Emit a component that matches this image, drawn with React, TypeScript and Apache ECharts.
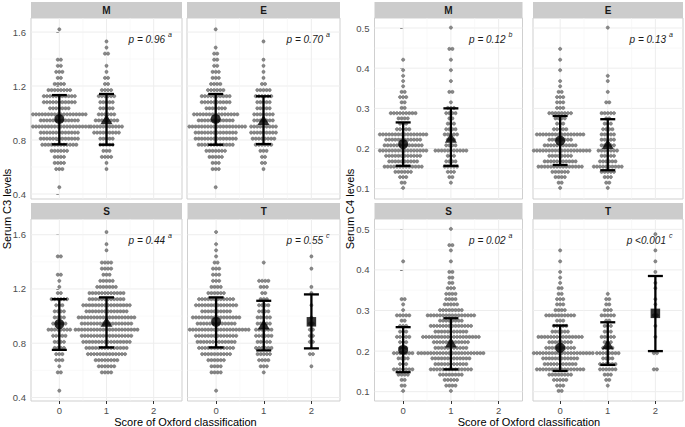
import React, { useEffect, useRef } from 'react';
import * as echarts from 'echarts';

const FONT = '"Liberation Sans", Arial, Helvetica, sans-serif';

// ---------- data ----------
const scores = [0, 1, 2];
const facets = ['M', 'E', 'S', 'T'];
const meanSymbols = ['circle', 'triangle', 'rect'];

const c3Ticks = [0.4, 0.8, 1.2, 1.6];
const c3Minor = [0.6, 1.0, 1.4];
const c4Ticks = [0.1, 0.2, 0.3, 0.4, 0.5];
const c4Minor = [0.15, 0.25, 0.35, 0.45];
const xMinor = [0.5, 1.5];

// bin levels (serum C3, g/L) of the dot rows
const c3Bins = [0.45, 0.495, 0.54, 0.585, 0.63, 0.675, 0.72, 0.765, 0.81, 0.855, 0.9, 0.945, 0.99, 1.035, 1.08, 1.125, 1.17, 1.215, 1.26, 1.305, 1.35, 1.395, 1.44, 1.485, 1.53, 1.575, 1.62];
// bin levels (serum C4, g/L) of the dot rows
const c4Bins = [0.102, 0.115, 0.129, 0.142, 0.155, 0.168, 0.182, 0.195, 0.208, 0.222, 0.235, 0.248, 0.262, 0.275, 0.288, 0.301, 0.315, 0.328, 0.341, 0.355, 0.368, 0.381, 0.395, 0.408, 0.421, 0.435, 0.448, 0.461, 0.474, 0.488, 0.501];

// number of patients per bin
const c3M0 = [1, 0, 0, 3, 4, 4, 6, 12, 13, 13, 20, 13, 18, 7, 11, 11, 8, 4, 2, 3, 2, 2, 0, 0, 0, 0, 1];
const c3M1 = [0, 0, 0, 1, 1, 4, 3, 5, 5, 9, 11, 8, 6, 5, 5, 6, 4, 2, 2, 1, 1, 0, 2, 1, 1, 0, 0];
const c3E0 = [1, 0, 0, 3, 3, 5, 7, 12, 14, 14, 20, 12, 15, 7, 10, 10, 6, 4, 3, 3, 2, 2, 2, 1, 0, 0, 1];
const c3E1 = [0, 0, 0, 1, 2, 2, 3, 6, 8, 9, 9, 7, 7, 5, 5, 6, 5, 2, 1, 1, 1, 1, 0, 0, 1, 0, 0];
const c3S0 = [1, 0, 0, 2, 1, 3, 3, 4, 4, 5, 8, 5, 4, 4, 3, 6, 2, 1, 1, 2, 0, 0, 2, 0, 0, 0, 0];
const c3S1 = [0, 0, 0, 4, 6, 8, 13, 14, 16, 17, 21, 17, 19, 14, 16, 12, 12, 7, 5, 3, 4, 4, 0, 1, 1, 0, 1];
const c3T0 = [1, 0, 0, 4, 4, 6, 10, 12, 13, 14, 22, 13, 16, 10, 14, 12, 6, 4, 3, 3, 3, 2, 1, 1, 1, 0, 1];
const c3T1 = [0, 0, 0, 1, 3, 4, 5, 6, 5, 6, 6, 5, 5, 4, 4, 3, 2, 3, 4, 0, 0, 1, 0, 0, 0, 0, 0];
const c3T2 = [0, 0, 0, 0, 1, 0, 2, 0, 2, 2, 2, 2, 1, 0, 1, 0, 1, 1, 0, 0, 1, 0, 1, 0, 0, 0, 0];

const c4M0 = [1, 2, 3, 6, 13, 10, 12, 16, 13, 12, 16, 5, 3, 4, 9, 2, 2, 3, 2, 1, 1, 1, 1, 0, 1, 0, 0, 0, 0, 0, 0];
const c4M1 = [0, 1, 2, 3, 5, 4, 3, 11, 4, 3, 5, 4, 3, 2, 4, 3, 1, 0, 2, 0, 1, 0, 1, 0, 1, 0, 2, 0, 0, 0, 1];
const c4E0 = [1, 2, 4, 6, 15, 11, 8, 20, 11, 8, 16, 5, 3, 4, 8, 3, 3, 3, 2, 1, 1, 0, 1, 0, 1, 0, 1, 0, 0, 0, 0];
const c4E1 = [1, 2, 3, 5, 10, 6, 5, 7, 5, 5, 5, 4, 3, 2, 5, 0, 2, 0, 1, 0, 1, 1, 0, 0, 0, 0, 0, 0, 0, 0, 1];
const c4S0 = [1, 2, 2, 4, 7, 3, 4, 7, 3, 3, 5, 3, 3, 2, 5, 1, 1, 2, 0, 0, 0, 0, 0, 0, 1, 0, 0, 0, 0, 0, 0];
const c4S1 = [1, 4, 5, 8, 14, 11, 13, 22, 11, 12, 19, 11, 14, 8, 16, 8, 5, 4, 4, 3, 2, 2, 2, 0, 1, 0, 1, 2, 0, 0, 1];
const c4T0 = [2, 3, 5, 8, 16, 11, 12, 22, 10, 8, 15, 6, 5, 3, 10, 4, 3, 3, 2, 2, 1, 1, 1, 0, 1, 0, 1, 0, 0, 0, 0];
const c4T1 = [0, 1, 2, 3, 6, 6, 4, 8, 4, 3, 5, 3, 3, 2, 5, 3, 2, 2, 1, 0, 0, 0, 0, 0, 0, 0, 0, 0, 0, 0, 0];
const c4T2 = [0, 0, 0, 0, 2, 0, 0, 2, 0, 0, 1, 0, 1, 0, 2, 0, 1, 1, 0, 1, 1, 0, 1, 0, 1, 0, 1, 0, 0, 1, 0];

// mean and mean ± SD per score
const c3MeanM = [0.956, 0.953];
const c3LowM = [0.768, 0.765];
const c3HighM = [1.133, 1.141];
const c3MeanE = [0.956, 0.948];
const c3LowE = [0.765, 0.77];
const c3HighE = [1.141, 1.124];
const c3MeanS = [0.941, 0.958];
const c3LowS = [0.751, 0.769];
const c3HighS = [1.125, 1.138];
const c3MeanT = [0.958, 0.939, 0.958];
const c3LowT = [0.769, 0.747, 0.762];
const c3HighT = [1.138, 1.113, 1.16];

const c4MeanM = [0.211, 0.227];
const c4LowM = [0.157, 0.157];
const c4HighM = [0.265, 0.3];
const c4MeanE = [0.2195, 0.211];
const c4LowE = [0.159, 0.146];
const c4HighE = [0.281, 0.273];
const c4MeanS = [0.203, 0.221];
const c4LowS = [0.148, 0.155];
const c4HighS = [0.259, 0.281];
const c4MeanT = [0.208, 0.217, 0.293];
const c4LowT = [0.151, 0.166, 0.2];
const c4HighT = [0.263, 0.271, 0.385];

const c3PValues = ['p = 0.96', 'p = 0.70', 'p = 0.44', 'p = 0.55'];
const c3PNotes = ['a', 'a', 'a', 'c'];
const c4PValues = ['p = 0.12', 'p = 0.13', 'p = 0.02', 'p <0.001'];
const c4PNotes = ['b', 'a', 'a', 'c'];

const c3Title = 'Serum C3 levels';
const c4Title = 'Serum C4 levels';
const xTitle = 'Score of Oxford classification';

// ---------- layout ----------
type Panel = { left: number; top: number; width: number; height: number; x: [number, number]; y: [number, number] };
const layout: Panel[] = [
  { left: 31, top: 18, width: 151, height: 181, x: [-0.6, 2.6], y: [0.363, 1.704] },
  { left: 187, top: 18, width: 153, height: 181, x: [-0.6, 2.6], y: [0.363, 1.704] },
  { left: 31, top: 219, width: 151, height: 182, x: [-0.6, 2.6], y: [0.374, 1.716] },
  { left: 187.5, top: 219, width: 152.5, height: 182, x: [-0.6, 2.6], y: [0.374, 1.716] },
  { left: 374.5, top: 18, width: 148, height: 181, x: [-0.6, 2.5], y: [0.0744, 0.5249] },
  { left: 533, top: 18, width: 150, height: 181, x: [-0.57, 2.58], y: [0.0744, 0.5249] },
  { left: 374.5, top: 219, width: 148, height: 182, x: [-0.6, 2.5], y: [0.0771, 0.5254] },
  { left: 533, top: 219, width: 150, height: 182, x: [-0.57, 2.58], y: [0.0771, 0.5254] },
];

const STRIP_H = 16;
const DOT_PX = 3.1;

function buildOption() {
  const blocks = [
    {
      bins: c3Bins,
      counts: [[c3M0, c3M1], [c3E0, c3E1], [c3S0, c3S1], [c3T0, c3T1, c3T2]],
      means: [c3MeanM, c3MeanE, c3MeanS, c3MeanT],
      lows: [c3LowM, c3LowE, c3LowS, c3LowT],
      highs: [c3HighM, c3HighE, c3HighS, c3HighT],
      pv: c3PValues, notes: c3PNotes, ticks: c3Ticks, minor: c3Minor, title: c3Title,
    },
    {
      bins: c4Bins,
      counts: [[c4M0, c4M1], [c4E0, c4E1], [c4S0, c4S1], [c4T0, c4T1, c4T2]],
      means: [c4MeanM, c4MeanE, c4MeanS, c4MeanT],
      lows: [c4LowM, c4LowE, c4LowS, c4LowT],
      highs: [c4HighM, c4HighE, c4HighS, c4HighT],
      pv: c4PValues, notes: c4PNotes, ticks: c4Ticks, minor: c4Minor, title: c4Title,
    },
  ];

  const grids: any[] = [];
  const xAxes: any[] = [];
  const yAxes: any[] = [];
  const series: any[] = [];
  const graphics: any[] = [];

  layout.forEach((pan, p) => {
    const b = blocks[p < 4 ? 0 : 1];
    const f = p % 4;
    const showX = f >= 2;
    const showY = f % 2 === 0;
    grids.push({
      left: pan.left, top: pan.top, width: pan.width, height: pan.height,
      show: true, backgroundColor: '#ffffff', borderColor: '#cfcfcf', borderWidth: 1,
    });
    xAxes.push({
      type: 'value', gridIndex: p, min: pan.x[0], max: pan.x[1],
      axisLine: { show: false }, splitLine: { show: false },
      axisTick: { show: showX, customValues: scores, length: 3, lineStyle: { color: '#333333', width: 1 } },
      axisLabel: {
        show: showX, customValues: scores, color: '#4d4d4d', fontSize: 9.5, fontFamily: FONT, margin: 4,
        formatter: (v: number) => (Math.abs(v - Math.round(v)) < 1e-6 ? String(Math.round(v)) : ''),
      },
    });
    yAxes.push({
      type: 'value', gridIndex: p, min: pan.y[0], max: pan.y[1],
      axisLine: { show: false }, splitLine: { show: false },
      axisTick: { show: showY, customValues: b.ticks, length: 3, lineStyle: { color: '#333333', width: 1 } },
      axisLabel: {
        show: showY, customValues: b.ticks, color: '#4d4d4d', fontSize: 9.5, fontFamily: FONT, margin: 5,
        formatter: (v: number) => v.toFixed(1),
      },
    });

    // grid lines
    const gl: number[][] = [];
    b.ticks.forEach((v) => gl.push([pan.x[0], v, 0, 1]));
    b.minor.forEach((v) => gl.push([pan.x[0], v, 0, 0]));
    scores.forEach((v) => gl.push([v, pan.y[0], 1, 1]));
    xMinor.forEach((v) => gl.push([v, pan.y[0], 1, 0]));
    series.push({
      type: 'custom', xAxisIndex: p, yAxisIndex: p, z: 1, silent: true, data: gl,
      encode: { x: 0, y: 1 },
      renderItem: (params: any, api: any) => {
        const cs = params.coordSys;
        const vert = api.value(2) === 1;
        const major = api.value(3) === 1;
        const pt = api.coord([api.value(0), api.value(1)]);
        const shape = vert
          ? { x1: pt[0], y1: cs.y, x2: pt[0], y2: cs.y + cs.height }
          : { x1: cs.x, y1: pt[1], x2: cs.x + cs.width, y2: pt[1] };
        return { type: 'line', shape, style: { stroke: major ? '#ededed' : '#f5f5f5', lineWidth: major ? 1 : 0.6 } };
      },
    });

    // dots
    const dx = DOT_PX * (pan.x[1] - pan.x[0]) / pan.width;
    const dots: number[][] = [];
    b.counts[f].forEach((counts, g) => {
      counts.forEach((n, k) => {
        for (let i = 0; i < n; i++) dots.push([scores[g] + (i - (n - 1) / 2) * dx, b.bins[k]]);
      });
    });
    series.push({
      type: 'scatter', xAxisIndex: p, yAxisIndex: p, z: 2, silent: true, clip: true,
      symbol: 'circle', symbolSize: 3.2, data: dots,
      itemStyle: { color: '#8a8a8a', borderColor: '#5e5e5e', borderWidth: 0.5, opacity: 1 },
    });

    // error bars
    const eb = b.means[f].map((_, g) => [scores[g], b.lows[f][g], b.highs[f][g]]);
    series.push({
      type: 'custom', xAxisIndex: p, yAxisIndex: p, z: 3, silent: true, data: eb,
      encode: { x: 0, y: [1, 2] },
      renderItem: (params: any, api: any) => {
        const lo = api.coord([api.value(0), api.value(1)]);
        const hi = api.coord([api.value(0), api.value(2)]);
        const hw = 7.5;
        const st = { stroke: '#000000', lineWidth: 2.3 };
        return {
          type: 'group',
          children: [
            { type: 'line', shape: { x1: lo[0], y1: lo[1], x2: hi[0], y2: hi[1] }, style: st },
            { type: 'line', shape: { x1: lo[0] - hw, y1: lo[1], x2: lo[0] + hw, y2: lo[1] }, style: st },
            { type: 'line', shape: { x1: hi[0] - hw, y1: hi[1], x2: hi[0] + hw, y2: hi[1] }, style: st },
          ],
        };
      },
    });

    // means
    series.push({
      type: 'scatter', xAxisIndex: p, yAxisIndex: p, z: 4, silent: true,
      data: b.means[f].map((m, g) => ({
        value: [scores[g], m],
        symbol: meanSymbols[g],
        symbolSize: g === 1 ? [12, 10] : g === 2 ? 9.5 : 10,
      })),
      itemStyle: { color: '#000000' },
    });

    // strip
    graphics.push({
      type: 'rect', shape: { x: pan.left, y: pan.top - STRIP_H, width: pan.width, height: STRIP_H },
      style: { fill: '#cccccc' }, z: 10,
    });
    graphics.push({
      type: 'text', x: pan.left + pan.width / 2, y: pan.top - STRIP_H / 2 + 0.5, z: 11,
      style: { text: facets[f], font: `bold 10px ${FONT}`, fill: '#1a1a1a', align: 'center', verticalAlign: 'middle' },
    });

    // p values
    const right = pan.left + pan.width;
    graphics.push({
      type: 'text', x: right - 17, y: pan.top + 21, z: 11,
      style: { text: b.pv[f], font: `italic 10px ${FONT}`, fill: '#1a1a1a', align: 'right', verticalAlign: 'middle' },
    });
    graphics.push({
      type: 'text', x: right - 14, y: pan.top + 16.5, z: 11,
      style: { text: b.notes[f], font: `italic 7px ${FONT}`, fill: '#1a1a1a', align: 'left', verticalAlign: 'middle' },
    });
  });

  // axis titles
  const titleFont = `11px ${FONT}`;
  graphics.push({
    type: 'text', x: 7, y: 209, rotation: Math.PI / 2, z: 11,
    style: { text: c3Title, font: titleFont, fill: '#000000', align: 'center', verticalAlign: 'middle' },
  });
  graphics.push({
    type: 'text', x: 350, y: 209, rotation: Math.PI / 2, z: 11,
    style: { text: c4Title, font: titleFont, fill: '#000000', align: 'center', verticalAlign: 'middle' },
  });
  graphics.push({
    type: 'text', x: 185.5, y: 421.5, z: 11,
    style: { text: xTitle, font: titleFont, fill: '#000000', align: 'center', verticalAlign: 'middle' },
  });
  graphics.push({
    type: 'text', x: 529, y: 421.5, z: 11,
    style: { text: xTitle, font: titleFont, fill: '#000000', align: 'center', verticalAlign: 'middle' },
  });

  return {
    animation: false,
    backgroundColor: '#ffffff',
    grid: grids,
    xAxis: xAxes,
    yAxis: yAxes,
    series,
    graphic: graphics,
  };
}

export default function App() {
  const ref = useRef<HTMLDivElement>(null);
  useEffect(() => {
    const chart = echarts.init(ref.current as HTMLDivElement, null, { renderer: 'svg' });
    chart.setOption(buildOption() as any);
    return () => chart.dispose();
  }, []);
  return <div ref={ref} style={{ position: 'absolute', left: 0, top: 0, width: 685, height: 427 }} />;
}
